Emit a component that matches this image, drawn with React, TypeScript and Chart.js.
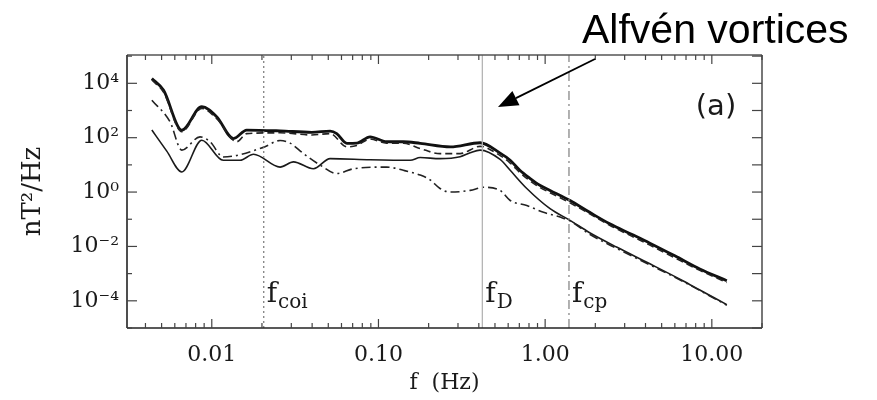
import React, { useEffect, useRef } from 'react';
import { Chart, registerables } from 'chart.js';

Chart.register(...registerables);

// Axis ticks
const xTickValues = [0.01, 0.1, 1, 10];
const xTickLabels = ['0.01', '0.10', '1.00', '10.00'];
const yTickValues = [1e-4, 1e-2, 1, 1e2, 1e4];
const yTickLabels = ['10⁻⁴', '10⁻²', '10⁰', '10²', '10⁴'];

// Thick solid curve
const thickFreq = [0.00437, 0.00513, 0.00661, 0.00871, 0.0107, 0.0135, 0.0162, 0.0257, 0.0398, 0.0513, 0.0562, 0.0646, 0.0741, 0.0891, 0.112, 0.141, 0.178, 0.27, 0.407, 0.537, 0.617, 0.705, 0.81, 0.929, 1.07, 1.41, 1.85, 2.44, 3.3, 4.25, 6.0, 8.47, 12.3];
const thickPower = [15100, 5620, 191, 1380, 589, 93, 191, 178, 158, 174, 141, 62, 63, 107, 71, 71, 62, 46, 65, 27, 14.8, 6.3, 3.2, 1.78, 1.15, 0.49, 0.18, 0.068, 0.028, 0.0132, 0.0045, 0.00148, 0.00055];

// Dashed curve
const dashFreq = [0.00437, 0.00513, 0.00661, 0.00871, 0.0107, 0.0141, 0.0162, 0.0257, 0.0398, 0.0513, 0.0646, 0.0741, 0.0891, 0.112, 0.141, 0.178, 0.234, 0.309, 0.407, 0.537, 0.617, 0.705, 0.81, 0.929, 1.07, 1.41, 1.85, 2.44, 3.3, 4.25, 6.0, 8.47, 12.3];
const dashPower = [13200, 4790, 166, 1200, 501, 71, 141, 151, 126, 141, 46, 52, 89, 63, 63, 40, 26, 26, 48, 22, 11.7, 5.2, 2.6, 1.48, 0.95, 0.40, 0.158, 0.060, 0.024, 0.0112, 0.0038, 0.00132, 0.00047];

// Thin solid curve
const thinFreq = [0.00437, 0.00537, 0.00661, 0.00871, 0.0117, 0.0148, 0.0178, 0.0257, 0.0309, 0.0407, 0.0513, 0.0891, 0.155, 0.178, 0.234, 0.309, 0.355, 0.407, 0.537, 0.617, 0.776, 1.07, 1.41, 1.85, 2.70, 4.25, 6.70, 8.47, 12.3];
const thinPower = [191, 32, 5.5, 81, 14.8, 14.8, 24.5, 8.3, 12.9, 7.2, 17, 15.5, 14.8, 18.6, 17, 20, 28, 35, 15.8, 6.3, 1.35, 0.245, 0.091, 0.032, 0.0093, 0.0023, 0.00055, 0.00025, 0.0000724];

// Dash-dot curve
const dotDashFreq = [0.00437, 0.00562, 0.00661, 0.0085, 0.00977, 0.0117, 0.0204, 0.0257, 0.0295, 0.0355, 0.0447, 0.0562, 0.0708, 0.112, 0.141, 0.178, 0.204, 0.234, 0.269, 0.355, 0.427, 0.537, 0.617, 0.776, 0.977, 1.23, 1.41, 1.85, 2.70, 4.25, 6.70, 8.47, 12.3];
const dotDashPower = [2400, 380, 35, 107, 71, 19.5, 44, 79, 63, 26, 9.8, 4.8, 7.2, 8.3, 6.3, 4.2, 2.8, 1.35, 1.0, 1.15, 1.5, 1.15, 0.49, 0.32, 0.18, 0.12, 0.087, 0.028, 0.0083, 0.0021, 0.00052, 0.00024, 0.000069];

// Reference frequencies
const refFreqs = [0.0205, 0.42, 1.39];
const refNames = ['coi', 'D', 'cp'];

const X_MIN = 0.0031;
const X_MAX = 20;
const Y_MIN = 1e-5;
const Y_MAX = 1.1e5;

const toPoints = (xs: number[], ys: number[]) => xs.map((x, i) => ({ x, y: ys[i] }));

const decorPlugin = {
  id: 'decor',
  afterDraw(chart: any) {
    const { ctx, chartArea: a, scales } = chart;
    const xs = scales.x;
    const ys = scales.y;
    ctx.save();
    const seg = (x1: number, y1: number, x2: number, y2: number) => {
      ctx.beginPath();
      ctx.moveTo(x1, y1);
      ctx.lineTo(x2, y2);
      ctx.stroke();
    };
    // frame: left/bottom dark, top/right lighter
    ctx.lineWidth = 1.6;
    ctx.strokeStyle = '#555';
    seg(a.left, a.top, a.right, a.top);
    seg(a.right, a.top, a.right, a.bottom);
    ctx.strokeStyle = '#222';
    seg(a.left, a.top, a.left, a.bottom);
    seg(a.left, a.bottom, a.right, a.bottom);
    ctx.lineWidth = 1.2;
    ctx.strokeStyle = '#444';
    // x ticks (inward, bottom and top)
    for (let e = -3; e <= 1; e++) {
      for (let m = 1; m <= 9; m++) {
        const v = m * Math.pow(10, e);
        if (v < X_MIN || v > X_MAX) continue;
        const px = xs.getPixelForValue(v);
        const len = m === 1 ? 9 : 5;
        seg(px, a.bottom, px, a.bottom - len);
        seg(px, a.top, px, a.top + len);
      }
    }
    // y ticks (inward, left and right)
    for (let e = -5; e <= 5; e++) {
      const v = Math.pow(10, e);
      if (v < Y_MIN || v > Y_MAX) continue;
      const py = ys.getPixelForValue(v);
      const len = e % 2 === 0 ? 10 : 5;
      seg(a.left, py, a.left + len, py);
      seg(a.right, py, a.right - 10, py);
    }
    // subscript labels at reference lines
    ctx.fillStyle = '#1a1a1a';
    ctx.textBaseline = 'alphabetic';
    ctx.textAlign = 'left';
    refFreqs.forEach((f, i) => {
      const px = xs.getPixelForValue(f) + 3;
      ctx.font = '28px "DejaVu Serif"';
      ctx.fillText('f', px, a.bottom - 26);
      const w = ctx.measureText('f').width;
      ctx.font = '20px "DejaVu Serif"';
      ctx.fillText(refNames[i], px + w + 1, a.bottom - 20);
    });
    // panel tag
    ctx.font = '29px "DejaVu Sans"';
    ctx.textAlign = 'center';
    ctx.textBaseline = 'middle';
    ctx.fillText('(a)', a.right - 46, a.top + 52);
    // annotation text
    ctx.fillStyle = '#000';
    ctx.font = '41px "Liberation Sans"';
    ctx.textAlign = 'left';
    ctx.textBaseline = 'alphabetic';
    ctx.fillText('Alfvén vortices', 582, 43);
    // arrow
    const tail = { x: 595, y: 59 };
    const tip = { x: 498, y: 107 };
    const dx = tip.x - tail.x;
    const dy = tip.y - tail.y;
    const L = Math.hypot(dx, dy);
    const ux = dx / L;
    const uy = dy / L;
    const hl = 20;
    const hw = 8;
    const bx = tip.x - ux * hl;
    const by = tip.y - uy * hl;
    ctx.strokeStyle = '#000';
    ctx.lineWidth = 1.8;
    seg(tail.x, tail.y, bx, by);
    ctx.beginPath();
    ctx.moveTo(tip.x, tip.y);
    ctx.lineTo(bx - uy * hw, by + ux * hw);
    ctx.lineTo(bx + uy * hw, by - ux * hw);
    ctx.closePath();
    ctx.fillStyle = '#000';
    ctx.fill();
    ctx.restore();
  },
};

export default function App() {
  const canvasRef = useRef<HTMLCanvasElement | null>(null);

  useEffect(() => {
    const canvas = canvasRef.current;
    if (!canvas) return;
    const lineBase = { pointRadius: 0, fill: false, cubicInterpolationMode: 'monotone' as const };
    const refStyles = [
      { color: '#777', dash: [2, 3], width: 1.2 },
      { color: '#b5b5b5', dash: [], width: 1.3 },
      { color: '#888', dash: [9, 4, 2, 4], width: 1.3 },
    ];
    const datasets: any[] = [
      ...refFreqs.map((f, i) => ({
        label: 'f_' + refNames[i],
        data: [{ x: f, y: Y_MIN }, { x: f, y: Y_MAX }],
        borderColor: refStyles[i].color,
        borderDash: refStyles[i].dash,
        borderWidth: refStyles[i].width,
        pointRadius: 0,
        fill: false,
      })),
      { ...lineBase, label: 'dash-dot', data: toPoints(dotDashFreq, dotDashPower), borderColor: '#222', borderWidth: 1.6, borderDash: [9, 4, 2, 4] },
      { ...lineBase, label: 'thin', data: toPoints(thinFreq, thinPower), borderColor: '#1a1a1a', borderWidth: 1.6 },
      { ...lineBase, label: 'dashed', data: toPoints(dashFreq, dashPower), borderColor: '#222', borderWidth: 1.6, borderDash: [7, 4] },
      { ...lineBase, label: 'thick', data: toPoints(thickFreq, thickPower), borderColor: '#111', borderWidth: 2.8 },
    ];
    const tickFont = { family: '"DejaVu Serif"', size: 22 };
    const chart = new Chart(canvas, {
      type: 'line',
      data: { datasets },
      plugins: [decorPlugin],
      options: {
        animation: false,
        responsive: false,
        maintainAspectRatio: false,
        layout: { padding: { left: 0, right: 115, top: 55, bottom: 0 } },
        plugins: { legend: { display: false }, tooltip: { enabled: false } },
        scales: {
          x: {
            type: 'logarithmic',
            min: X_MIN,
            max: X_MAX,
            grid: { display: false, drawTicks: false },
            border: { display: false },
            afterBuildTicks: (s: any) => { s.ticks = xTickValues.map((v) => ({ value: v })); },
            afterFit: (s: any) => { s.height = 72; },
            ticks: {
              autoSkip: false,
              maxRotation: 0,
              padding: 14,
              color: '#1a1a1a',
              font: tickFont,
              callback: (v: any) => { const i = xTickValues.indexOf(Number(v)); return i >= 0 ? xTickLabels[i] : ''; },
            },
            title: { display: true, text: 'f  (Hz)', color: '#1a1a1a', font: { family: '"DejaVu Serif"', size: 22 }, padding: { top: 0, bottom: 4 } },
          },
          y: {
            type: 'logarithmic',
            min: Y_MIN,
            max: Y_MAX,
            grid: { display: false, drawTicks: false },
            border: { display: false },
            afterBuildTicks: (s: any) => { s.ticks = yTickValues.map((v) => ({ value: v })); },
            afterFit: (s: any) => { s.width = 127; },
            ticks: {
              autoSkip: false,
              padding: 8,
              color: '#1a1a1a',
              font: tickFont,
              callback: (v: any) => { const i = yTickValues.indexOf(Number(v)); return i >= 0 ? yTickLabels[i] : ''; },
            },
            title: { display: true, text: 'nT²/Hz', color: '#1a1a1a', font: { family: '"DejaVu Serif"', size: 26 }, padding: { top: 18, bottom: 0 } },
          },
        },
      },
    });
    return () => chart.destroy();
  }, []);

  return (
    <div style={{ position: 'absolute', left: 0, top: 0, width: 877, height: 400, background: '#fff' }}>
      <canvas ref={canvasRef} width={877} height={400} />
    </div>
  );
}
